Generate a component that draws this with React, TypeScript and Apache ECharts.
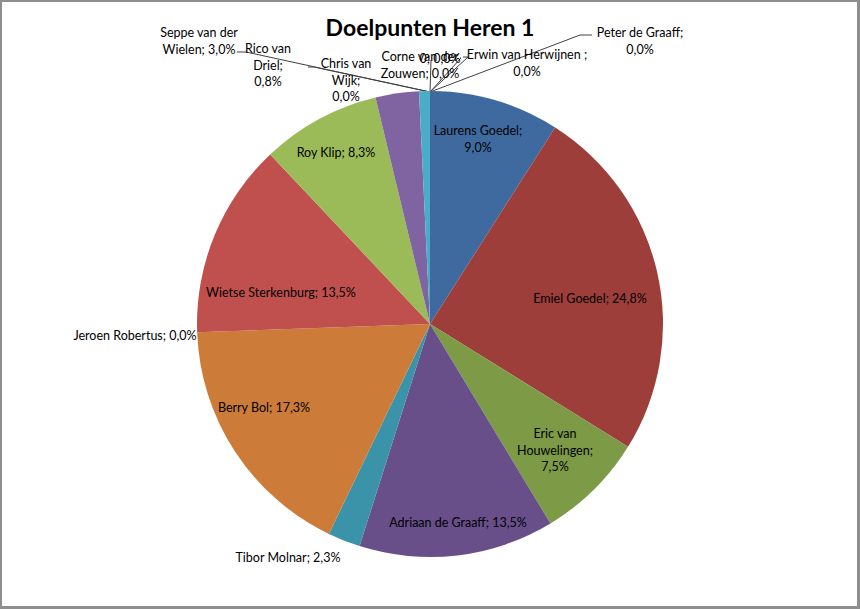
import React, { useEffect, useRef } from "react";
import * as echarts from "echarts";

// ---- data ----
const PLAYERS = [
  "Laurens Goedel",
  "Emiel Goedel",
  "Eric van Houwelingen",
  "Adriaan de Graaff",
  "Tibor Molnar",
  "Berry Bol",
  "Jeroen Robertus",
  "Wietse Sterkenburg",
  "Roy Klip",
  "Seppe van der Wielen",
  "Rico van Driel",
  "Chris van Wijk",
  "Corne van der Zouwen",
  "0",
  "Erwin van Herwijnen ",
  "Peter de Graaff",
];
const GOALS = [12, 33, 10, 18, 3, 23, 0, 18, 11, 4, 1, 0, 0, 0, 0, 0];
// label text as wrapped in the reference (name part)
const LABEL_NAMES = [
  "Laurens Goedel;\n",
  "Emiel Goedel; ",
  "Eric van\nHouwelingen;\n",
  "Adriaan de Graaff; ",
  "Tibor Molnar; ",
  "Berry Bol; ",
  "Jeroen Robertus; ",
  "Wietse Sterkenburg; ",
  "Roy Klip; ",
  "Seppe van der\nWielen; ",
  "Rico van\nDriel;\n",
  "Chris van\nWijk;\n",
  "Corne van der\nZouwen; ",
  "0; ",
  "Erwin van Herwijnen ;\n",
  "Peter de Graaff;\n",
];
const TITLE = "Doelpunten Heren 1";

// ---- styles / layout ----
const COLORS = [
  "#3F6A9F", "#9D3E3B", "#7D9A47", "#684F89", "#3A93A8", "#CC7B38",
  "#2C4D75", "#C0504D", "#9BBB59", "#8064A2", "#4BACC6", "#F79646",
  "#4F81BD", "#C0504D", "#9BBB59", "#8064A2",
];
const CX = 430;
const CY = 324;
const R = 233;
// label centres (px)
const LABEL_POS: [number, number][] = [
  [478, 139],
  [590, 298],
  [555, 450],
  [458, 522],
  [288, 557],
  [264, 407],
  [135, 335],
  [281, 292],
  [336, 152],
  [199, 41],
  [268, 65],
  [346, 80],
  [420, 65],
  [440, 58],
  [527, 63],
  [640, 41],
];
// which labels sit outside with a leader line: start points (label side)
const LEADER_START: ([number, number][] | null)[] = [
  null, null, null, null, null, null, null, null, null,
  [[237, 52], [246, 52]],
  null,
  [[308, 67], [314, 67]],
  [[431, 60], [431, 61]],
  [[460, 58], [461, 58]],
  [[463, 57], [468, 57]],
  [[592, 35], [580, 35]],
];
const OUTSIDE = [4, 6, 9, 10, 11, 12, 13, 14, 15];

const TOTAL = GOALS.reduce((a, b) => a + b, 0);
const fmtPct = (v: number) => ((v / TOTAL) * 100).toFixed(1).replace(".", ",") + "%";

export default function App() {
  const ref = useRef<HTMLDivElement>(null);
  useEffect(() => {
    if (!ref.current) return;
    const chart = echarts.init(ref.current, undefined, { renderer: "svg" });
    const data = PLAYERS.map((name, i) => ({
      name,
      value: GOALS[i],
      itemStyle: { color: COLORS[i] },
      label: { position: OUTSIDE.includes(i) ? "outside" : "inside" },
      labelLine: { show: !!LEADER_START[i] },
    }));
    chart.setOption({
      animation: false,
      backgroundColor: "#ffffff",
      title: {
        text: TITLE,
        left: "center",
        top: 10,
        textStyle: {
          fontFamily: "Lato",
          fontWeight: "bold",
          fontSize: 23,
          color: "#000000",
        },
      },
      series: [
        {
          type: "pie",
          center: [CX, CY],
          radius: [0, R],
          startAngle: 90,
          clockwise: true,
          avoidLabelOverlap: false,
          stillShowZeroSum: true,
          itemStyle: { borderWidth: 0 },
          emphasis: { disabled: true },
          label: {
            show: true,
            color: "#000000",
            fontFamily: "Lato",
            fontSize: 12.5,
            lineHeight: 16.5,
            align: "center",
            formatter: (p: any) => LABEL_NAMES[p.dataIndex] + fmtPct(p.value),
          },
          labelLine: {
            show: false,
            lineStyle: { color: "#404040", width: 1 },
          },
          labelLayout: (p: any) => {
            const i = p.dataIndex;
            const [x, y] = LABEL_POS[i];
            const res: any = { x, y, align: "center", verticalAlign: "middle" };
            const ls = LEADER_START[i];
            if (ls) {
              res.labelLinePoints = [ls[0], ls[1], [CX, CY - R + 1]];
            }
            return res;
          },
          data,
        },
      ],
    });
    return () => chart.dispose();
  }, []);
  return (
    <div style={{ position: "fixed", left: 0, top: 0, width: 860, height: 609 }}>
      <div ref={ref} style={{ position: "absolute", left: 0, top: 0, width: 860, height: 609 }} />
      <div
        style={{
          position: "absolute",
          left: 0,
          top: 0,
          width: 860,
          height: 609,
          boxSizing: "border-box",
          borderStyle: "solid",
          borderColor: "#8e8e8e",
          borderWidth: "2px 3px 3px 2px",
          pointerEvents: "none",
        }}
      />
    </div>
  );
}
